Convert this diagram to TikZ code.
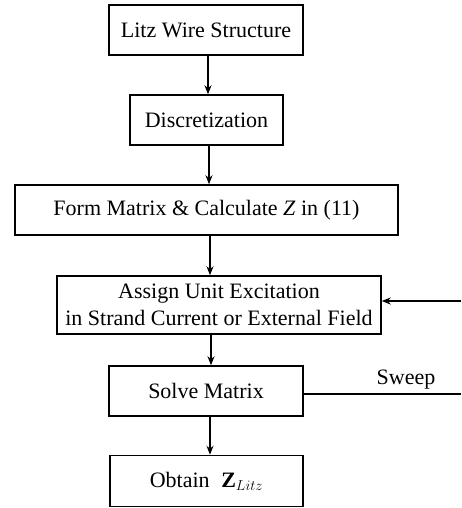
\documentclass[tikz,border=0pt]{standalone}
\usepackage{fontspec}
\setmainfont{Liberation Serif}
\usetikzlibrary{arrows.meta}
\begin{document}
\begin{tikzpicture}[x=1pt,y=-1pt,
  box/.style={draw,line width=1.5pt,inner sep=0pt,align=center,font=\fontsize{22}{27}\selectfont},
  arr/.style={line width=1.5pt,-{Stealth[length=9pt,width=7pt]}}]
\useasboundingbox (0,0) rectangle (461,508);
\node[box,minimum width=194pt,minimum height=50pt] (b1) at (206,30) {Litz Wire Structure};
\node[box,minimum width=153pt,minimum height=50pt] (b2) at (206.5,120) {Discretization};
\node[box,minimum width=383pt,minimum height=50pt] (b3) at (206.5,210) {Form Matrix \& Calculate \textit{Z} in (11)};
\node[box,minimum width=324pt,minimum height=58pt] (b4) at (219,305) {Assign Unit Excitation\\in Strand Current or External Field};
\node[box,minimum width=194pt,minimum height=50pt] (b5) at (206,391) {Solve Matrix};
\node[box,minimum width=193pt,minimum height=51pt] (b6) at (206.5,481) {Obtain \;$\mathbf{Z}_{Litz}$};
\coordinate (s1) at (461,394);
\coordinate (s2) at (461,301);
\draw[arr] (b1.south -| 208,0) -- (b2.north -| 208,0);
\draw[arr] (b2.south -| 209,0) -- (b3.north -| 209,0);
\draw[arr] (b3.south -| 210,0) -- (b4.north -| 210,0);
\draw[arr] (b4.south -| 211,0) -- (b5.north -| 211,0);
\draw[arr] (b5.south -| 210,0) -- (b6.north -| 210,0);
\draw[line width=1.5pt] (b5.east |- s1) -- (s1);
\draw[arr] (s2) -- (b4.east |- s2);
\node[font=\fontsize{22}{27}\selectfont] (sw) at (406,380) {Sweep};
\end{tikzpicture}
\end{document}
